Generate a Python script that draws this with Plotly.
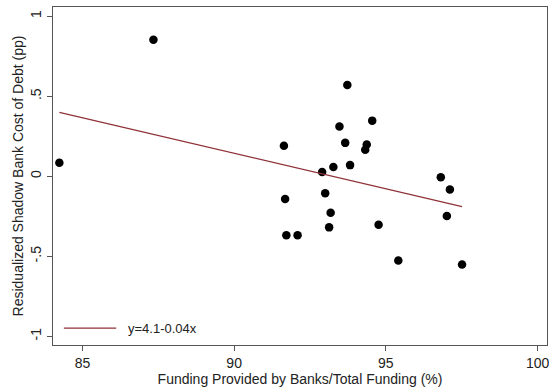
import plotly.graph_objects as go
import numpy as np

# Bank funding share (%) and residualized shadow bank cost of debt (pp)
bank_share = [84.24, 87.34, 93.73, 94.55, 93.47, 91.64, 93.66, 94.37, 94.32, 93.82,
              93.27, 92.90, 96.81, 97.11, 91.68, 93.00, 93.18, 97.01, 94.76, 93.13,
              91.72, 92.09, 95.41, 97.51]
resid_cost = [0.085, 0.853, 0.570, 0.348, 0.311, 0.191, 0.209, 0.199, 0.166, 0.070,
              0.058, 0.027, -0.006, -0.083, -0.141, -0.106, -0.228, -0.248, -0.302, -0.319,
              -0.368, -0.368, -0.526, -0.551]

# Linear fit y = a + b*x
fit_intercept = 4.14
fit_slope = -0.0444

x_ticks = [85, 90, 95, 100]
y_ticks = [-1, -0.5, 0, 0.5, 1]
y_ticktext = ["-1", "-.5", "0", ".5", "1"]

fit_label = f"y={fit_intercept:.1f}-{abs(fit_slope):.2f}x"

x_fit = np.array([min(bank_share), max(bank_share)])
y_fit = fit_intercept + fit_slope * x_fit

FONT = "Arial, 'Liberation Sans', sans-serif"
LINE_COLOR = "#8f3238"
FRAME = "#555555"

fig = go.Figure()
fig.add_trace(go.Scatter(
    x=bank_share, y=resid_cost, mode="markers",
    marker=dict(color="black", size=8.5, line=dict(width=0)),
    showlegend=False, hoverinfo="x+y",
))
fig.add_trace(go.Scatter(
    x=x_fit, y=y_fit, mode="lines",
    line=dict(color=LINE_COLOR, width=1.2),
    name=fit_label, showlegend=False,
))

# Legend key drawn inside the plot area, bottom-left
fig.add_shape(type="line", xref="paper", yref="paper",
              x0=0.022, x1=0.128, y0=0.05, y1=0.05,
              line=dict(color=LINE_COLOR, width=1.2))
fig.add_annotation(text=fit_label, xref="paper", yref="paper",
                   x=0.148, y=0.05, xanchor="left", yanchor="middle",
                   showarrow=False, font=dict(family=FONT, size=13, color="#222"))

axis_common = dict(
    showgrid=False, zeroline=False, showline=True, mirror=True,
    linecolor=FRAME, linewidth=1, ticks="outside", ticklen=5,
    tickcolor=FRAME, tickwidth=1,
    tickfont=dict(family=FONT, size=14, color="#222"),
)

fig.update_xaxes(
    range=[84.03, 100.31], tickvals=x_ticks,
    title=dict(text="Funding Provided by Banks/Total Funding (%)",
               font=dict(family=FONT, size=14, color="#222"), standoff=2),
    **axis_common,
)
fig.update_yaxes(
    range=[-1.054, 1.058], tickvals=y_ticks, ticktext=y_ticktext, tickangle=-90,
    title=dict(text="Residualized Shadow Bank Cost of Debt (pp)",
               font=dict(family=FONT, size=14, color="#222"), standoff=1),
    **axis_common,
)

fig.update_layout(
    width=559, height=389,
    margin=dict(l=53, r=12, t=6, b=43),
    paper_bgcolor="white", plot_bgcolor="white",
    font=dict(family=FONT),
)

fig.write_html("out.html")
